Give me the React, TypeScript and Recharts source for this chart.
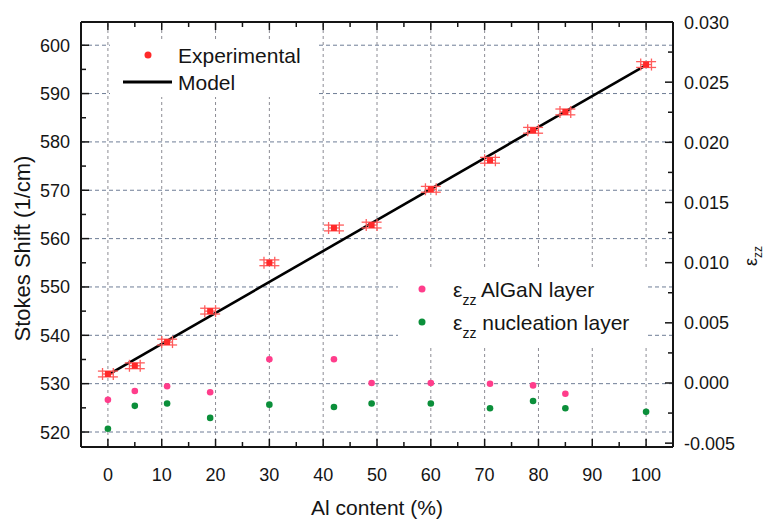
import React from "react";
import {
  ComposedChart,
  Scatter,
  Line,
  XAxis,
  YAxis,
  ReferenceLine,
  ErrorBar,
  Legend,
  Label,
} from "recharts";

const FONT = '"Liberation Sans", Arial, sans-serif';
const RED = "#ff2a2a";
const RED_ERR = "#ff5c5c";
const PINK = "#ff3d8b";
const GREEN = "#0b8f3a";
const INK = "#151515";

// Stokes shift vs Al content (experimental points with error bars)
const alContent = [0, 5, 11, 19, 30, 42, 49, 60, 71, 79, 85, 100];
const stokesShift = [532.0, 533.7, 538.6, 545.0, 555.0, 562.2, 562.8, 570.2, 576.2, 582.4, 586.2, 596.0];
const contentErr = [1, 1, 1, 1, 1, 1, 1, 1, 1, 1, 1, 1];
const shiftErr = [0.6, 0.6, 0.6, 0.6, 0.6, 0.6, 0.6, 0.6, 0.6, 0.6, 0.6, 0.6];

// linear model
const modelContent = [0, 100];
const modelShift = [531.8, 595.9];

// strain epsilon_zz
const algaNContent = [0, 5, 11, 19, 30, 42, 49, 60, 71, 79, 85];
const algaNStrain = [-0.0014, -0.00066, -0.00027, -0.00077, 0.00197, 0.00197, 0.0, 0.0, -0.00006, -0.0002, -0.0009];
const nucleationContent = [0, 5, 11, 19, 30, 42, 49, 60, 71, 79, 85, 100];
const nucleationStrain = [-0.0038, -0.0019, -0.0017, -0.0029, -0.0018, -0.002, -0.0017, -0.0017, -0.0021, -0.0015, -0.0021, -0.0024];

// ticks
const xTicks = [0, 5, 10, 15, 20, 25, 30, 35, 40, 45, 50, 55, 60, 65, 70, 75, 80, 85, 90, 95, 100];
const xGrid = [0, 10, 20, 30, 40, 50, 60, 70, 80, 90, 100];
const leftTicks = [520, 525, 530, 535, 540, 545, 550, 555, 560, 565, 570, 575, 580, 585, 590, 595, 600];
const leftGrid = [520, 530, 540, 550, 560, 570, 580, 590, 600];
const rightTicks = [-0.005, -0.0025, 0, 0.0025, 0.005, 0.0075, 0.01, 0.0125, 0.015, 0.0175, 0.02, 0.0225, 0.025, 0.0275, 0.03];

const expData = alContent.map((x, i) => ({ x, y: stokesShift[i], ex: contentErr[i], ey: shiftErr[i] }));
const modelData = modelContent.map((x, i) => ({ x, y: modelShift[i] }));
const algaNData = algaNContent.map((x, i) => ({ x, y: algaNStrain[i] }));
const nucleationData = nucleationContent.map((x, i) => ({ x, y: nucleationStrain[i] }));

const isMajor = (v: number, step: number) => Math.abs(v / step - Math.round(v / step)) < 1e-6;

const BottomTick = (props: any) => {
  const { x, y, payload } = props;
  const major = isMajor(payload.value, 10);
  return (
    <g>
      <line x1={x} x2={x} y1={y} y2={y - (major ? 8 : 5)} stroke={INK} strokeWidth={1.5} />
      {major && (
        <text x={x} y={y + 34} textAnchor="middle" fontSize={18} fill={INK} fontFamily={FONT}>
          {payload.value}
        </text>
      )}
    </g>
  );
};

const TopTick = (props: any) => {
  const { x, y, payload } = props;
  const major = isMajor(payload.value, 10);
  return <line x1={x} x2={x} y1={y} y2={y + (major ? 8 : 5)} stroke={INK} strokeWidth={1.5} />;
};

const LeftTick = (props: any) => {
  const { x, y, payload } = props;
  const major = isMajor(payload.value, 10);
  return (
    <g>
      <line x1={x} x2={x + (major ? 8 : 5)} y1={y} y2={y} stroke={INK} strokeWidth={1.5} />
      {major && (
        <text x={x - 11} y={y + 6.5} textAnchor="end" fontSize={18} fill={INK} fontFamily={FONT}>
          {payload.value}
        </text>
      )}
    </g>
  );
};

const RightTick = (props: any) => {
  const { x, y, payload } = props;
  const major = isMajor(payload.value, 0.005);
  return (
    <g>
      <line x1={x} x2={x - (major ? 8 : 5)} y1={y} y2={y} stroke={INK} strokeWidth={1.5} />
      {major && (
        <text x={x + 11} y={y + 6.5} textAnchor="start" fontSize={18} fill={INK} fontFamily={FONT}>
          {payload.value.toFixed(3)}
        </text>
      )}
    </g>
  );
};

const LegendOverlay = () => (
  <svg width={767} height={520} style={{ position: "absolute", left: 0, top: 0 }} fontFamily={FONT}>
    <rect x={110} y={40} width={206} height={57} fill="#fff" />
    <circle cx={148} cy={55} r={3.5} fill={RED} />
    <text x={178} y={62.5} fontSize={21} fill={INK}>Experimental</text>
    <line x1={123} x2={172} y1={82} y2={82} stroke="#000" strokeWidth={3} />
    <text x={178} y={89.5} fontSize={21} fill={INK}>Model</text>

    <rect x={398} y={270} width={250} height={78} fill="#fff" />
    <circle cx={422} cy={289} r={3.5} fill={PINK} />
    <text x={453} y={296.5} fontSize={21} fill={INK}>
      ε<tspan dy={8} fontSize={14}>zz</tspan>
      <tspan dy={-8} fontSize={21}> AlGaN layer</tspan>
    </text>
    <circle cx={422} cy={322} r={3.5} fill={GREEN} />
    <text x={453} y={329.5} fontSize={21} fill={INK}>
      ε<tspan dy={8} fontSize={14}>zz</tspan>
      <tspan dy={-8} fontSize={21}> nucleation layer</tspan>
    </text>
  </svg>
);

const dot = (color: string) => (p: any) => <circle cx={p.cx} cy={p.cy} r={3.3} fill={color} />;
const expMarker = (p: any) => <rect x={p.cx - 3} y={p.cy - 3} width={6} height={6} fill={RED} />;

export default function App() {
  return (
    <div style={{ position: "absolute", left: 0, top: 0, width: 767, height: 520, background: "#fff", fontFamily: FONT }}>
      <ComposedChart width={767} height={520} margin={{ top: 0, right: 0, bottom: 0, left: 0 }}>
        <XAxis
          type="number"
          dataKey="x"
          domain={[-5, 105]}
          ticks={xTicks}
          interval={0}
          allowDataOverflow
          height={73}
          tickSize={0}
          tickMargin={0}
          tickLine={false}
          tick={<BottomTick />}
          axisLine={{ stroke: INK, strokeWidth: 2 }}
        >
          <Label
            content={(p: any) => (
              <text
                x={p.viewBox.x + p.viewBox.width / 2}
                y={p.viewBox.y + 67.5}
                textAnchor="middle"
                fontSize={21}
                fill={INK}
                fontFamily={FONT}
              >
                Al content (%)
              </text>
            )}
          />
        </XAxis>
        <XAxis
          xAxisId="top"
          orientation="top"
          type="number"
          dataKey="x"
          domain={[-5, 105]}
          ticks={xTicks}
          interval={0}
          allowDataOverflow
          height={22}
          tickSize={0}
          tickMargin={0}
          tickLine={false}
          tick={<TopTick />}
          axisLine={{ stroke: INK, strokeWidth: 2 }}
        />
        <YAxis
          yAxisId="left"
          type="number"
          domain={[516.9, 604.8]}
          ticks={leftTicks}
          interval={0}
          allowDataOverflow
          width={81}
          tickSize={0}
          tickMargin={0}
          tickLine={false}
          tick={<LeftTick />}
          axisLine={{ stroke: INK, strokeWidth: 2 }}
        >
          <Label
            content={(p: any) => {
              const cx = p.viewBox.x + 30;
              const cy = p.viewBox.y + p.viewBox.height / 2 + 14;
              return (
                <text
                  x={cx}
                  y={cy}
                  transform={`rotate(-90, ${cx}, ${cy})`}
                  textAnchor="middle"
                  fontSize={22}
                  fill={INK}
                  fontFamily={FONT}
                >
                  Stokes Shift (1/cm)
                </text>
              );
            }}
          />
        </YAxis>
        <YAxis
          yAxisId="right"
          orientation="right"
          type="number"
          domain={[-0.00532, 0.03]}
          ticks={rightTicks}
          interval={0}
          allowDataOverflow
          width={94}
          tickSize={0}
          tickMargin={0}
          tickLine={false}
          tick={<RightTick />}
          axisLine={{ stroke: INK, strokeWidth: 2 }}
        >
          <Label
            content={(p: any) => {
              const cx = p.viewBox.x + 84;
              const cy = p.viewBox.y + 234;
              return (
                <text
                  x={cx}
                  y={cy}
                  transform={`rotate(-90, ${cx}, ${cy})`}
                  textAnchor="middle"
                  fontSize={18}
                  fill={INK}
                  fontFamily={FONT}
                >
                  ε<tspan dy={5} fontSize={12}>zz</tspan>
                </text>
              );
            }}
          />
        </YAxis>

        {xGrid.map((v) => (
          <ReferenceLine key={"gx" + v} x={v} yAxisId="left" stroke="#8c8c94" strokeDasharray="3 3" strokeWidth={1} />
        ))}
        {leftGrid.map((v) => (
          <ReferenceLine key={"gy" + v} y={v} yAxisId="left" stroke="#6f7d96" strokeDasharray="4 3" strokeWidth={1} />
        ))}

        <Line
          data={modelData}
          dataKey="y"
          yAxisId="left"
          type="linear"
          stroke="#000"
          strokeWidth={2.6}
          dot={false}
          activeDot={false}
          isAnimationActive={false}
        />
        <Scatter data={expData} dataKey="y" yAxisId="left" shape={expMarker} isAnimationActive={false}>
          <ErrorBar dataKey="ex" direction="x" width={6} stroke={RED_ERR} strokeWidth={1.3} isAnimationActive={false} />
          <ErrorBar dataKey="ey" direction="y" width={10} stroke={RED_ERR} strokeWidth={1.3} isAnimationActive={false} />
        </Scatter>
        <Scatter data={algaNData} dataKey="y" yAxisId="right" shape={dot(PINK)} isAnimationActive={false} />
        <Scatter data={nucleationData} dataKey="y" yAxisId="right" shape={dot(GREEN)} isAnimationActive={false} />

        <Legend
          layout="horizontal"
          verticalAlign="middle"
          align="center"
          wrapperStyle={{ left: 0, top: 0, width: 767, height: 520, pointerEvents: "none" }}
          content={() => <LegendOverlay />}
        />
      </ComposedChart>
    </div>
  );
}
